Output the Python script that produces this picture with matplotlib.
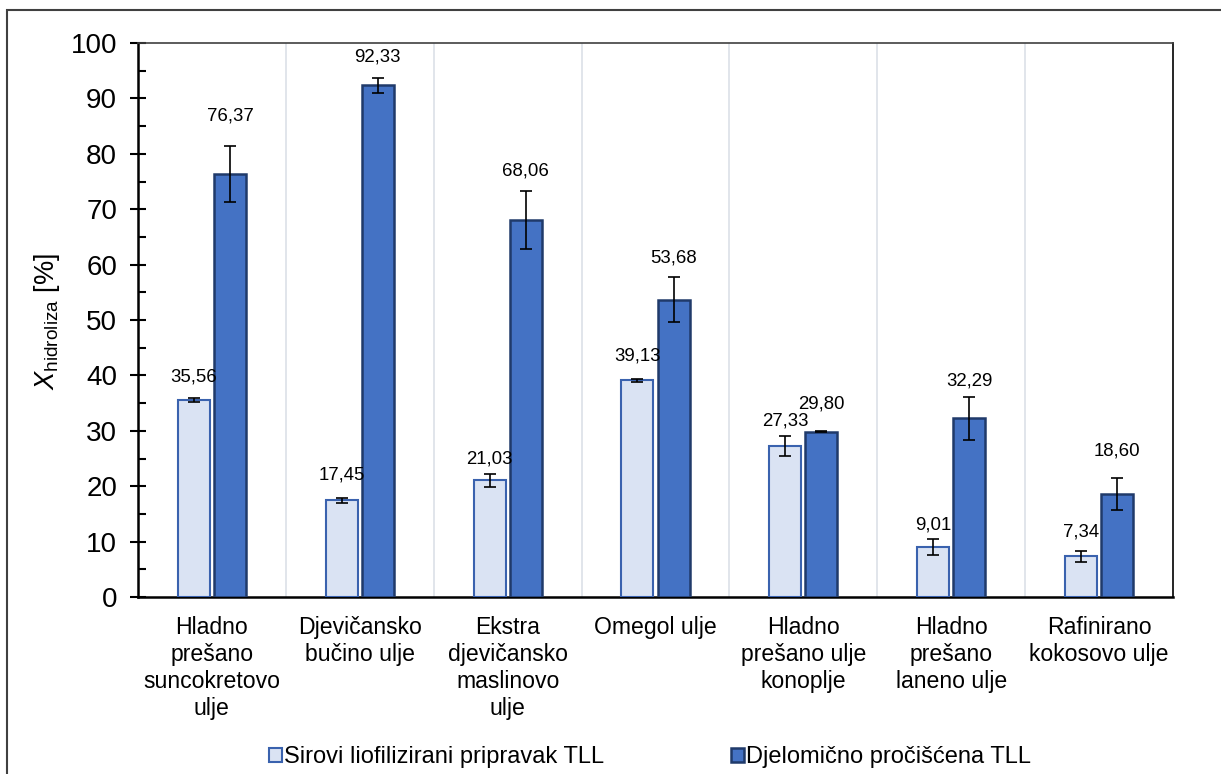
import matplotlib
matplotlib.use("Agg")
import matplotlib.pyplot as plt
from matplotlib.patches import Rectangle
import numpy as np

plt.rcParams['font.family'] = ['Liberation Sans', 'DejaVu Sans']
plt.rcParams['mathtext.fontset'] = 'custom'
plt.rcParams['mathtext.rm'] = 'Liberation Sans'
plt.rcParams['mathtext.it'] = 'Liberation Sans:italic'

# oils and hydrolysis conversion for both enzyme preparations
categories = ["Hladno\nprešano\nsuncokretovo\nulje", "Djevičansko\nbučino ulje",
              "Ekstra\ndjevičansko\nmaslinovo\nulje", "Omegol ulje",
              "Hladno\nprešano ulje\nkonoplje", "Hladno\nprešano\nlaneno ulje",
              "Rafinirano\nkokosovo ulje"]
series_names = ["Sirovi liofilizirani pripravak TLL", "Djelomično pročišćena TLL"]
crude = [35.56, 17.45, 21.03, 39.13, 27.33, 9.01, 7.34]
crude_err = [0.3, 0.5, 1.2, 0.3, 1.8, 1.5, 0.95]
purified = [76.37, 92.33, 68.06, 53.68, 29.80, 32.29, 18.60]
purified_err = [5.0, 1.3, 5.2, 4.1, 0.1, 3.9, 2.9]

# gap between error-bar top and label centre, pixels
crude_pad = [21, 23, 15, 23, 15, 14, 19]
purified_pad = [30, 21, 20, 19, 27, 16, 27]

fig = plt.figure(figsize=(12.21, 7.74), dpi=100)
ax = fig.add_axes([138 / 1221, 1 - 597 / 774, (1173 - 138) / 1221, (597 - 43) / 774])

x = np.arange(len(categories))
w = 0.216
off = 0.122

b0 = ax.bar(x - off, crude, w, color='#DAE3F3', edgecolor='#3A62AE', linewidth=1.5,
            label=series_names[0], zorder=3)
b1 = ax.bar(x + off, purified, w, color='#4472C4', edgecolor='#203A6A', linewidth=1.8,
            label=series_names[1], zorder=3)
ax.errorbar(x - off, crude, yerr=crude_err, fmt='none', ecolor='black',
            elinewidth=1.2, capsize=4.5, capthick=1.2, zorder=4)
ax.errorbar(x + off, purified, yerr=purified_err, fmt='none', ecolor='black',
            elinewidth=1.2, capsize=4.5, capthick=1.2, zorder=4)

for xs, vals, errs, pads in [(x - off, crude, crude_err, crude_pad),
                             (x + off, purified, purified_err, purified_pad)]:
    for xi, v, e, p in zip(xs, vals, errs, pads):
        ax.annotate(f"{v:.2f}".replace('.', ','), (xi, v + e),
                    xytext=(0, p * 0.72), textcoords='offset points',
                    ha='center', va='center', fontsize=13.4)

# category separators
for b in np.arange(0.5, len(categories) - 1, 1.0):
    ax.axvline(b, color='#DCE0E8', linewidth=1.2, zorder=1)

ax.set_xlim(-0.5, len(categories) - 0.5)
ax.set_ylim(0, 100)
ax.set_yticks(np.arange(0, 101, 10))
ax.set_yticks(np.arange(5, 100, 10), minor=True)
ax.tick_params(axis='y', which='major', direction='inout', length=12, width=1.5,
               labelsize=20, pad=9)
ax.tick_params(axis='y', which='minor', direction='in', length=6, width=1.5)
ax.set_xticks(x)
ax.set_xticklabels(categories, fontsize=16.6, linespacing=1.22)
ax.tick_params(axis='x', length=0, pad=14)

ax.spines['left'].set_linewidth(1.8)
ax.spines['bottom'].set_linewidth(1.8)
for s in ['top', 'right']:
    ax.spines[s].set_linewidth(1.2)
ax.spines['top'].set_color('#404040')

fig.text(47 / 1221, 1 - 322 / 774, r'$X_{\mathrm{hidroliza}}$ [%]', rotation=90,
         ha='center', va='center', fontsize=19.5)

# one legend entry per box so each sits at its own place
for handle, name, xpos in [(b0, series_names[0], 269), (b1, series_names[1], 731)]:
    fig.legend(handles=[handle], labels=[name], loc='center left',
               bbox_to_anchor=(xpos / 1221, 1 - 757 / 774), frameon=False,
               borderpad=0, borderaxespad=0, handlelength=0.55, handleheight=0.55,
               handletextpad=0.1, fontsize=17)

# outer chart frame
fig.patches.append(Rectangle((7 / 1221, -0.2), 1.2, 1.2 - 10 / 774, transform=fig.transFigure,
                             fill=False, edgecolor='#404040', linewidth=1.5))

fig.savefig("out.png", dpi=100)
